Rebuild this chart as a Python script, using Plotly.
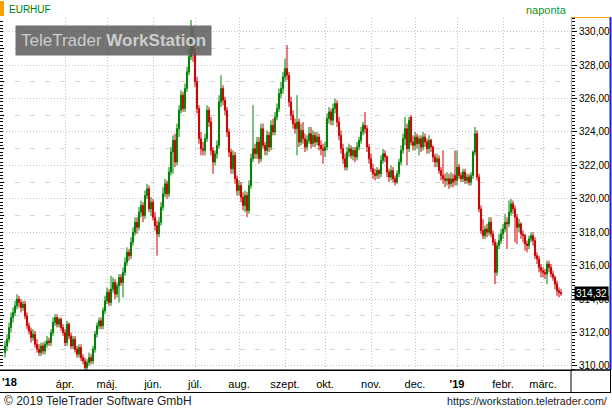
import plotly.graph_objects as go
import pandas as pd

SYMBOL = "EURHUF"
PERIOD_LABEL = "naponta"
START_DATE = "2018-02-19"
FIRST_LABELLED_MONTH = "2018-04-01"
FOOTER_LEFT = "© 2019 TeleTrader Software GmbH"
FOOTER_RIGHT = "https://workstation.teletrader.com/"
WATERMARK = "TeleTrader <b>WorkStation</b>"

# daily OHLC, Feb 19 2018 .. Mar 14 2019 (weekdays)
opens = [
    310.8, 311.2, 311.6, 312.3, 312.9, 313.2, 313.6, 314.0, 313.8, 313.5, 313.7, 313.0, 312.4, 312.1, 311.7,
    311.9, 311.3, 311.0, 310.8, 311.2, 310.9, 311.3, 311.5, 311.4, 312.0, 312.6, 312.9, 312.5, 312.8, 312.3,
    312.0, 311.4, 312.5, 311.8, 311.2, 311.6, 311.0, 310.7, 311.1, 310.5, 310.3, 309.9, 310.2, 310.5, 310.3,
    311.0, 311.9, 312.4, 312.7, 312.4, 313.3,
    313.9, 314.4, 313.8, 314.6, 315.0, 314.3, 314.8, 315.3, 315.0, 315.6, 316.2, 316.8, 316.6, 317.4, 318.0,
    318.6, 318.3, 319.2, 319.6, 319.0, 320.2, 320.6, 319.4,
    319.8, 318.9, 318.4, 317.9, 318.6, 319.5, 320.3, 320.9, 320.3, 321.6, 322.8, 323.5, 322.2, 324.2, 325.3,
    326.2, 325.4, 326.6, 327.6, 328.5, 329.6,
    328.8, 327.0, 325.4, 323.6, 323.0, 322.9, 323.6, 325.3, 324.6, 322.9, 322.2, 322.7, 323.2, 325.8, 326.6,
    325.9, 325.3, 324.0, 322.8, 321.8, 322.6, 321.2,
    320.5, 320.8, 320.1, 319.6, 320.2, 319.3, 320.8, 322.4, 323.0, 322.7, 323.4, 322.4, 324.2, 323.2, 322.9,
    323.8, 323.1, 324.4, 324.0, 324.9, 325.4, 326.3, 326.6,
    327.3, 327.8, 327.4, 325.8, 325.0, 324.5, 324.2, 324.6, 323.4, 324.1, 323.6, 323.1, 323.5, 323.9, 323.3,
    323.8, 323.4, 323.7, 323.2, 323.0,
    322.9, 323.1, 324.8, 325.2, 324.7, 325.4, 325.7, 324.6, 323.8, 323.0, 322.4, 321.9, 322.8, 323.0, 322.6,
    322.9, 322.5, 323.1, 323.5, 324.0, 324.4, 324.2, 323.1,
    322.4, 321.8, 321.5, 321.4, 321.7, 321.5, 322.3, 322.7, 322.5, 321.6, 321.3, 321.7, 321.2, 321.0, 321.5,
    322.2, 322.9, 323.6, 324.2, 323.0, 324.9, 323.4,
    323.2, 323.7, 323.3, 323.6, 323.1, 323.7, 323.4, 323.0, 323.5, 323.1, 322.5, 322.2, 322.4, 321.7, 321.4,
    321.2, 321.1, 321.2, 320.9, 321.2, 321.4,
    321.1, 321.9, 321.4, 321.2, 321.6, 321.1, 321.3, 321.0, 321.4, 322.8, 323.9, 321.3, 319.4, 318.1, 317.8,
    318.2, 318.0, 318.6, 317.9, 317.4, 315.6, 317.2, 317.5,
    317.9, 318.2, 318.6, 318.5, 319.2, 319.7, 319.4, 318.9, 318.3, 318.5, 317.9, 317.8, 317.3, 317.2, 317.6,
    317.8, 317.5, 316.6, 316.4, 315.9,
    315.7, 315.6, 315.5, 316.1, 315.9, 315.5, 315.3, 314.9, 314.5, 314.4,
]
highs = [
    311.5, 311.9, 312.6, 313.2, 313.5, 313.9, 314.3, 314.2, 314.0, 313.9, 313.9, 313.2, 312.6, 312.3, 312.2,
    312.1, 311.6, 311.3, 311.4, 311.4, 311.5, 311.8, 311.7, 312.2, 312.9, 313.1, 313.1, 312.9, 312.9, 312.5,
    312.2, 312.7, 312.6, 312.0, 311.8, 311.8, 311.2, 311.3, 311.3, 310.7, 310.5, 310.4, 310.8, 310.7, 311.2,
    312.1, 312.6, 312.9, 312.9, 313.5, 314.2,
    314.7, 314.6, 315.4, 315.3, 315.2, 315.0, 315.5, 315.5, 315.9, 316.5, 317.1, 317.0, 317.7, 318.3, 318.9,
    318.9, 319.5, 319.9, 319.8, 320.5, 320.9, 320.8, 320.1,
    320.0, 319.2, 318.7, 318.9, 319.8, 320.7, 321.2, 321.1, 321.9, 323.1, 323.8, 323.9, 324.5, 325.6, 326.5,
    326.4, 326.9, 327.9, 329.0, 330.7, 330.3,
    329.0, 327.3, 325.6, 324.0, 323.4, 323.9, 325.6, 325.5, 324.9, 323.1, 322.9, 323.5, 326.2, 327.4, 326.8,
    326.1, 325.5, 324.2, 323.0, 322.9, 322.8, 321.4,
    321.1, 321.0, 320.4, 320.5, 320.4, 321.1, 322.7, 325.6, 323.3, 323.7, 323.7, 324.5, 324.5, 323.4, 324.1,
    324.0, 324.7, 324.8, 325.2, 325.7, 326.6, 327.0, 327.6,
    328.4, 329.2, 327.6, 326.1, 325.3, 324.8, 326.2, 324.8, 324.5, 324.6, 323.9, 323.8, 324.3, 324.3, 324.1,
    324.0, 324.0, 323.9, 323.5, 323.3,
    323.4, 325.1, 325.5, 325.4, 325.7, 326.0, 325.9, 324.9, 324.1, 323.3, 322.7, 323.1, 323.3, 323.2, 323.1,
    323.1, 323.4, 323.7, 324.3, 324.6, 325.2, 324.4, 323.3,
    322.7, 322.1, 321.8, 321.9, 321.8, 322.6, 323.0, 322.9, 322.6, 321.8, 322.0, 321.9, 321.4, 321.7, 322.4,
    323.2, 323.9, 324.9, 324.5, 324.9, 325.0, 323.8,
    324.0, 323.9, 323.8, 323.8, 324.0, 323.9, 323.6, 323.8, 323.6, 323.2, 322.7, 322.7, 322.6, 321.9, 322.9,
    321.5, 321.6, 321.5, 321.6, 321.5, 322.9,
    322.9, 322.1, 321.6, 321.8, 321.8, 321.5, 321.5, 321.6, 322.9, 324.3, 324.1, 321.5, 319.6, 318.8, 318.4,
    318.5, 318.9, 318.9, 318.1, 317.6, 317.4, 317.9, 318.2,
    318.5, 319.1, 318.9, 319.9, 320.0, 319.9, 319.6, 319.1, 318.8, 318.6, 318.1, 317.9, 317.5, 317.8, 318.0,
    318.0, 317.7, 316.8, 316.6, 316.1,
    315.9, 315.8, 316.3, 316.3, 316.1, 315.7, 315.4, 315.1, 314.7, 314.6,
]
lows = [
    310.5, 310.9, 311.4, 312.0, 312.6, 313.0, 313.4, 313.5, 313.2, 313.3, 312.8, 312.2, 311.9, 311.4, 311.5,
    311.1, 310.8, 310.6, 310.6, 310.7, 310.7, 311.1, 311.2, 311.2, 311.8, 312.4, 312.3, 312.3, 312.1, 311.8,
    311.2, 311.2, 311.6, 311.0, 311.0, 310.8, 310.5, 310.5, 310.3, 310.1, 309.7, 309.7, 310.0, 310.1, 310.1,
    310.8, 311.7, 312.2, 312.2, 312.2, 313.1,
    313.7, 313.6, 313.6, 314.4, 314.0, 314.1, 313.8, 314.8, 314.1, 315.4, 316.0, 316.3, 316.4, 317.2, 317.8,
    317.9, 318.1, 318.9, 318.6, 318.8, 320.0, 319.2, 319.0,
    318.7, 318.1, 316.6, 317.7, 318.4, 319.3, 320.1, 320.0, 320.1, 321.4, 321.5, 321.9, 322.0, 323.7, 325.1,
    325.2, 325.2, 326.4, 327.4, 328.3, 328.2,
    326.7, 325.1, 323.3, 322.6, 322.6, 322.6, 323.4, 324.3, 322.6, 321.5, 322.0, 322.4, 323.0, 325.5, 325.6,
    325.0, 323.7, 322.5, 321.5, 321.5, 320.9, 320.2,
    320.2, 319.8, 319.3, 319.2, 318.9, 319.1, 320.6, 322.2, 322.4, 322.4, 322.1, 322.2, 323.0, 322.6, 322.6,
    322.8, 322.9, 323.8, 323.8, 324.7, 325.2, 326.0, 326.3,
    327.0, 327.1, 325.5, 324.7, 324.2, 323.9, 322.6, 323.1, 323.2, 323.3, 322.8, 322.9, 323.3, 323.0, 323.1,
    323.1, 323.2, 322.9, 322.6, 322.1,
    322.5, 322.9, 324.5, 324.4, 324.4, 325.1, 324.3, 323.5, 322.7, 322.1, 321.7, 321.7, 322.5, 322.4, 322.3,
    322.2, 322.3, 322.9, 323.3, 323.8, 323.9, 322.8, 322.1,
    321.6, 321.2, 321.1, 321.2, 321.2, 321.3, 322.1, 322.2, 321.3, 321.0, 321.1, 321.0, 320.8, 320.9, 321.3,
    322.0, 322.7, 323.2, 322.0, 322.8, 323.2, 322.9,
    322.9, 323.0, 322.6, 322.8, 322.9, 323.1, 322.7, 322.7, 322.8, 322.2, 321.9, 321.9, 321.5, 321.1, 320.9,
    320.7, 320.8, 320.6, 320.7, 320.7, 320.8,
    320.8, 321.2, 321.0, 321.0, 320.9, 320.9, 320.8, 320.8, 321.2, 322.6, 321.1, 319.2, 317.9, 317.6, 317.6,
    317.7, 317.8, 317.7, 317.2, 314.9, 315.4, 317.0, 317.3,
    317.6, 318.0, 317.0, 318.3, 319.0, 319.1, 317.4, 317.3, 318.0, 317.6, 317.4, 316.9, 316.8, 317.0, 317.4,
    317.2, 316.4, 316.1, 315.6, 315.3,
    315.3, 315.2, 314.9, 315.6, 315.3, 315.1, 314.6, 314.2, 314.1, 314.2,
]
closes = [
    311.2, 311.6, 312.3, 312.9, 313.2, 313.6, 314.0, 313.8, 313.5, 313.7, 313.0, 312.4, 312.1, 311.7, 311.9,
    311.3, 311.0, 310.8, 311.2, 310.9, 311.3, 311.5, 311.4, 312.0, 312.6, 312.9, 312.5, 312.8, 312.3, 312.0,
    311.4, 312.5, 311.8, 311.2, 311.6, 311.0, 310.7, 311.1, 310.5, 310.3, 309.9, 310.2, 310.5, 310.3, 311.0,
    311.9, 312.4, 312.7, 312.4, 313.3, 313.9,
    314.4, 313.8, 314.6, 315.0, 314.3, 314.8, 315.3, 315.0, 315.6, 316.2, 316.8, 316.6, 317.4, 318.0, 318.6,
    318.3, 319.2, 319.6, 319.0, 320.2, 320.6, 319.4, 319.8,
    318.9, 318.4, 317.9, 318.6, 319.5, 320.3, 320.9, 320.3, 321.6, 322.8, 323.5, 322.2, 324.2, 325.3, 326.2,
    325.4, 326.6, 327.6, 328.5, 329.6, 328.8,
    327.0, 325.4, 323.6, 323.0, 322.9, 323.6, 325.3, 324.6, 322.9, 322.2, 322.7, 323.2, 325.8, 326.6, 325.9,
    325.3, 324.0, 322.8, 321.8, 322.6, 321.2, 320.5,
    320.8, 320.1, 319.6, 320.2, 319.3, 320.8, 322.4, 323.0, 322.7, 323.4, 322.4, 324.2, 323.2, 322.9, 323.8,
    323.1, 324.4, 324.0, 324.9, 325.4, 326.3, 326.6, 327.3,
    327.8, 327.4, 325.8, 325.0, 324.5, 324.2, 324.6, 323.4, 324.1, 323.6, 323.1, 323.5, 323.9, 323.3, 323.8,
    323.4, 323.7, 323.2, 323.0, 322.9,
    323.1, 324.8, 325.2, 324.7, 325.4, 325.7, 324.6, 323.8, 323.0, 322.4, 321.9, 322.8, 323.0, 322.6, 322.9,
    322.5, 323.1, 323.5, 324.0, 324.4, 324.2, 323.1, 322.4,
    321.8, 321.5, 321.4, 321.7, 321.5, 322.3, 322.7, 322.5, 321.6, 321.3, 321.7, 321.2, 321.0, 321.5, 322.2,
    322.9, 323.6, 324.2, 323.0, 324.7, 323.4, 323.2,
    323.7, 323.3, 323.6, 323.1, 323.7, 323.4, 323.0, 323.5, 323.1, 322.5, 322.2, 322.4, 321.7, 321.4, 321.2,
    321.1, 321.2, 320.9, 321.2, 321.0, 321.1,
    321.9, 321.4, 321.2, 321.6, 321.1, 321.3, 321.0, 321.4, 322.8, 323.9, 321.3, 319.4, 318.1, 317.8, 318.2,
    318.0, 318.6, 317.9, 317.4, 315.6, 317.2, 317.5, 317.9,
    318.2, 318.6, 318.5, 319.2, 319.7, 319.4, 318.9, 318.3, 318.5, 317.9, 317.8, 317.3, 317.2, 317.6, 317.8,
    317.5, 316.6, 316.4, 315.9, 315.7,
    315.6, 315.5, 316.1, 315.9, 315.5, 315.3, 314.9, 314.5, 314.4, 314.32,
]

MONTH_LABELS = {2: "febr.", 3: "márc.", 4: "ápr.", 5: "máj.", 6: "jún.", 7: "júl.",
                8: "aug.", 9: "szept.", 10: "okt.", 11: "nov.", 12: "dec."}

n = len(closes)
dates = pd.bdate_range(START_DATE, periods=n)
idx = list(range(n))

tickvals, ticktext = [], []
for i in range(1, n):
    if dates[i].month != dates[i - 1].month and dates[i] >= pd.Timestamp(FIRST_LABELLED_MONTH):
        tickvals.append(i)
        if dates[i].month == 1:
            ticktext.append("<b>'" + str(dates[i].year)[2:] + "</b>")
        else:
            ticktext.append(MONTH_LABELS[dates[i].month])

# ---- geometry (pixels) ----
W, H = 612, 409
ML, MR, MT, MB = 0, 41, 18, 39
PW, PH = W - ML - MR, H - MT - MB
PX_PER_BAR = 2.0
FIRST_BAR_PX = 5.0
x_lo = -FIRST_BAR_PX / PX_PER_BAR
x_hi = x_lo + PW / PX_PER_BAR
Y_RANGE = [309.76, 330.82]


def px(x):
    return (x - ML) / PW


def py(y):
    return (H - MB - y) / PH


FONT = "Liberation Sans"
GREEN = "#008000"
RED = "#cc0000"
ORANGE = "#f5a300"

fig = go.Figure()
fig.add_trace(go.Candlestick(
    x=idx, open=opens, high=highs, low=lows, close=closes,
    increasing=dict(line=dict(color=GREEN, width=1), fillcolor=GREEN),
    decreasing=dict(line=dict(color=RED, width=1), fillcolor=RED),
    whiskerwidth=0, hoverinfo="skip", showlegend=False,
))
# helper trace so the secondary (left) axis is drawn
fig.add_trace(go.Scatter(x=idx, y=closes, yaxis="y2", mode="none",
                         hoverinfo="skip", showlegend=False))

last_txt = f"{closes[-1]:.2f}".replace(".", ",")

fig.update_layout(
    width=W, height=H,
    margin=dict(l=ML, r=MR, t=MT, b=MB, pad=0),
    paper_bgcolor="white", plot_bgcolor="white",
    separators=", ",
    boxgap=0.2,
    font=dict(family=FONT, size=11, color="black"),
    showlegend=False,
    xaxis=dict(
        range=[x_lo, x_hi], tickmode="array", tickvals=tickvals, ticktext=ticktext,
        showgrid=True, gridcolor="#c4c4c4", griddash="1px,2px", gridwidth=1,
        ticks="", showline=True, linecolor="black", linewidth=1, mirror=False,
        zeroline=False, rangeslider=dict(visible=False), fixedrange=True,
        tickfont=dict(size=11, color="black"), ticklabelstandoff=4,
    ),
    yaxis=dict(
        side="right", range=Y_RANGE, tick0=310, dtick=2, tickformat=".2f",
        showgrid=True, gridcolor="#c4c4c4", griddash="1px,2px", gridwidth=1,
        ticks="outside", ticklen=5, tickwidth=1, tickcolor="black",
        minor=dict(ticks="outside", dtick=0.2, tick0=0, ticklen=3, tickcolor="black", showgrid=False),
        showline=True, linecolor=ORANGE, linewidth=1, zeroline=False, fixedrange=True,
        tickfont=dict(size=10, color="black"),
    ),
    yaxis2=dict(
        overlaying="y", side="left", range=Y_RANGE, tick0=311, dtick=2,
        showgrid=True, gridcolor="#d6d6d6", griddash="5px,10px", gridwidth=1,
        showticklabels=False, ticks="inside", ticklen=4, tickcolor="black",
        minor=dict(ticks="inside", dtick=0.2, tick0=0, ticklen=3, tickcolor="black", showgrid=False),
        showline=False, zeroline=False, fixedrange=True,
    ),
)

shapes = [
    # orange marker top-left
    dict(type="rect", xref="paper", yref="paper", x0=px(0), x1=px(4), y0=py(16), y1=py(1),
         fillcolor=ORANGE, line=dict(width=0)),
    # right price panel borders
    dict(type="line", xref="paper", yref="paper", x0=px(PW), x1=px(609), y0=py(17.5), y1=py(17.5),
         line=dict(color=ORANGE, width=1)),
    dict(type="line", xref="paper", yref="paper", x0=px(610.5), x1=px(610.5), y0=py(17), y1=py(370),
         line=dict(color="#1428c8", width=2)),
    # time-axis strip
    dict(type="line", xref="paper", yref="paper", x0=px(0), x1=px(611), y0=py(370), y1=py(370),
         line=dict(color="black", width=1)),
    dict(type="line", xref="paper", yref="paper", x0=px(0), x1=px(611), y0=py(392.5), y1=py(392.5),
         line=dict(color="black", width=1)),
    dict(type="rect", xref="paper", yref="paper", x0=px(PW), x1=px(610.5), y0=py(392.5), y1=py(370),
         line=dict(color="black", width=1), fillcolor="rgba(0,0,0,0)"),
]
fig.update_layout(shapes=shapes)

annotations = [
    dict(xref="paper", yref="paper", x=px(7), y=py(9.5), xanchor="left", yanchor="middle",
         text=SYMBOL, showarrow=False, font=dict(family=FONT, size=10, color=GREEN)),
    dict(xref="paper", yref="paper", x=px(569), y=py(10), xanchor="right", yanchor="middle",
         text=PERIOD_LABEL, showarrow=False, font=dict(family=FONT, size=11, color="#009a3c")),
    dict(xref="paper", yref="paper", x=px(114), y=py(40), xanchor="center", yanchor="middle",
         text=WATERMARK, showarrow=False, borderpad=5, bgcolor="rgba(92,92,92,0.86)",
         font=dict(family=FONT, size=17, color="#cdcdcd")),
    dict(xref="paper", yref="paper", x=px(9), y=py(382), xanchor="center", yanchor="middle",
         text="<b>'" + str(dates[0].year)[2:] + "</b>", showarrow=False,
         font=dict(family=FONT, size=11, color="black")),
    dict(xref="paper", yref="y", x=px(591.5), y=closes[-1], xanchor="center", yanchor="middle",
         text=last_txt, showarrow=False, bgcolor="black", borderpad=1,
         font=dict(family=FONT, size=10, color="white")),
    dict(xref="paper", yref="paper", x=px(2), y=py(401), xanchor="left", yanchor="middle",
         text=FOOTER_LEFT, showarrow=False, font=dict(family=FONT, size=12, color="#222222")),
    dict(xref="paper", yref="paper", x=px(609), y=py(401), xanchor="right", yanchor="middle",
         text=FOOTER_RIGHT, showarrow=False, font=dict(family=FONT, size=10.7, color="#222222")),
]
fig.update_layout(annotations=annotations)

fig.write_html("out.html", config={"displayModeBar": False},
               post_script="document.body.style.margin='0px';document.body.style.padding='0px';")
